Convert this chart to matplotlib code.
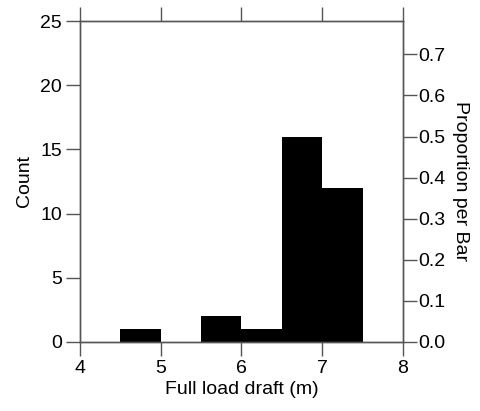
import numpy as np
import matplotlib.pyplot as plt

plt.rcParams['font.family'] = ['Liberation Sans', 'DejaVu Sans']

bin_left = [4.5, 5.0, 5.5, 6.0, 6.5, 7.0]
counts = [1, 0, 2, 1, 16, 12]
bin_width = 0.5
x_ticks = [4, 5, 6, 7, 8]
count_ticks = [0, 5, 10, 15, 20, 25]
prop_ticks = [0.0, 0.1, 0.2, 0.3, 0.4, 0.5, 0.6, 0.7]

total = sum(counts)
axis_col = '#555555'
fs = 14

fig = plt.figure(figsize=(4.81, 4.11), dpi=100)
ax = fig.add_axes([0.1663, 0.1679, 0.8378 - 0.1663, 0.9489 - 0.1679])

ax.bar(bin_left, counts, width=bin_width, align='edge', color='black', edgecolor='none')
ax.set_xlim(4, 8)
ax.set_ylim(0, 25)
ax.set_xticks(x_ticks)
ax.set_yticks(count_ticks)
ax.tick_params(axis='both', direction='out', length=10, width=1, color=axis_col,
               labelsize=fs, pad=3)
ax.tick_params(axis='x', top=True, labeltop=False)
for s in ax.spines.values():
    s.set_color(axis_col)
    s.set_linewidth(1)
ax.set_xlabel('Full load draft (m)', fontsize=fs, labelpad=3)
ax.set_ylabel('Count', fontsize=fs, labelpad=5)

ax2 = ax.twinx()
ax2.set_ylim(0, 25 / total)
ax2.set_yticks(prop_ticks)
ax2.set_yticklabels(['%.1f' % p for p in prop_ticks])
ax2.tick_params(axis='y', direction='out', length=10, width=1, color=axis_col,
                labelsize=fs, pad=1)
for s in ax2.spines.values():
    s.set_color(axis_col)
    s.set_linewidth(1)
ax2.set_ylabel('Proportion per Bar', fontsize=fs, rotation=-90, labelpad=17)

fig.savefig('out.png', dpi=100)
